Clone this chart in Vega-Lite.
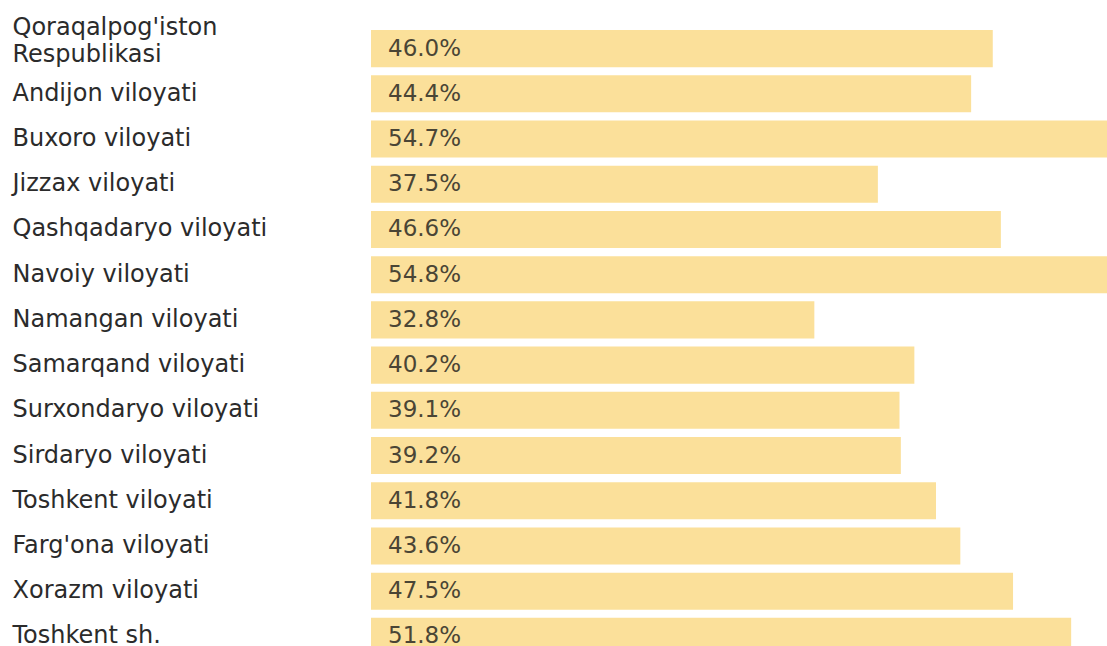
{
  "$schema": "https://vega.github.io/schema/vega-lite/v6.json",
  "width": 811,
  "height": 633,
  "autosize": {"type": "none"},
  "padding": {"left": 371, "top": 26, "right": 0, "bottom": 0},
  "background": "white",
  "config": {"view": {"stroke": null}},
  "data": {
    "values": [
      {"region": "Qoraqalpog'iston|Respublikasi", "value": 46.0},
      {"region": "Andijon viloyati", "value": 44.4},
      {"region": "Buxoro viloyati", "value": 54.7},
      {"region": "Jizzax viloyati", "value": 37.5},
      {"region": "Qashqadaryo viloyati", "value": 46.6},
      {"region": "Navoiy viloyati", "value": 54.8},
      {"region": "Namangan viloyati", "value": 32.8},
      {"region": "Samarqand viloyati", "value": 40.2},
      {"region": "Surxondaryo viloyati", "value": 39.1},
      {"region": "Sirdaryo viloyati", "value": 39.2},
      {"region": "Toshkent viloyati", "value": 41.8},
      {"region": "Farg'ona viloyati", "value": 43.6},
      {"region": "Xorazm viloyati", "value": 47.5},
      {"region": "Toshkent sh.", "value": 51.8}
    ]
  },
  "transform": [
    {"calculate": "format(datum.value, '.1f') + '%'", "as": "label"}
  ],
  "encoding": {
    "y": {
      "field": "region",
      "type": "nominal",
      "sort": null,
      "scale": {"paddingInner": 0.18, "paddingOuter": 0.09},
      "axis": {
        "title": null,
        "domain": false,
        "ticks": false,
        "labelAlign": "left",
        "labelPadding": 359,
        "labelFont": "DejaVu Sans",
        "labelFontSize": 24,
        "labelColor": "#2b2b2b",
        "labelLimit": 400,
        "labelLineHeight": 27,
        "labelOffset": {"condition": {"test": "indexof(datum.value, '|') >= 0", "value": -21}, "value": 0},
        "labelExpr": "split(datum.label, '|')"
      }
    }
  },
  "layer": [
    {
      "mark": {"type": "bar", "color": "#FBE09A"},
      "encoding": {
        "x": {"field": "value", "type": "quantitative", "scale": {"domain": [0, 60]}, "axis": null}
      }
    },
    {
      "mark": {"type": "text", "align": "left", "dx": 17, "font": "DejaVu Sans", "fontSize": 23, "color": "#4a4535"},
      "encoding": {
        "x": {"datum": 0, "type": "quantitative"},
        "text": {"field": "label"}
      }
    }
  ]
}
